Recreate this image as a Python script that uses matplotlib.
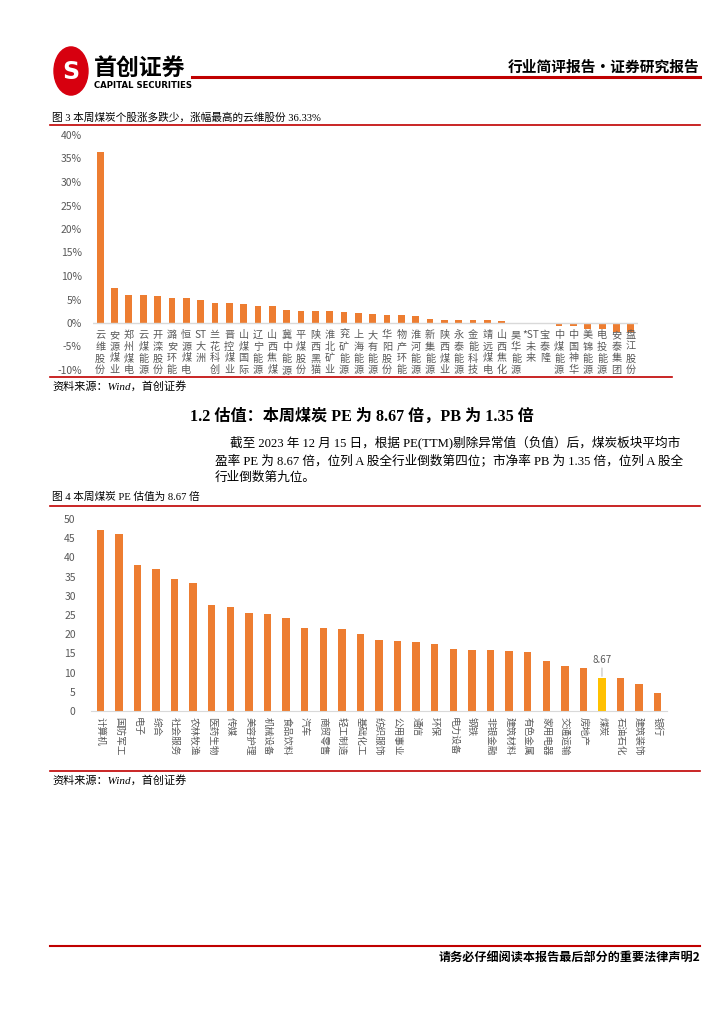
import matplotlib.pyplot as plt
from matplotlib.patches import Circle

plt.rcParams['font.family'] = ['Noto Sans CJK SC', 'DejaVu Sans']

W, H = 724, 1024

# figure 3: weekly change of coal stocks (%)
stocks = ['云维股份', '安源煤业', '郑州煤电', '云煤能源', '开滦股份', '潞安环能', '恒源煤电',
          'ST大洲', '兰花科创', '晋控煤业', '山煤国际', '辽宁能源', '山西焦煤', '冀中能源',
          '平煤股份', '陕西黑猫', '淮北矿业', '兖矿能源', '上海能源', '大有能源', '华阳股份',
          '物产环能', '淮河能源', '新集能源', '陕西煤业', '永泰能源', '金能科技', '靖远煤电',
          '山西焦化', '昊华能源', '*ST未来', '宝泰隆', '中煤能源', '中国神华', '美锦能源',
          '电投能源', '安泰集团', '盘江股份']
stock_chg = [36.33, 7.4, 5.9, 5.9, 5.8, 5.4, 5.4, 4.8, 4.2, 4.2, 4.1, 3.6, 3.6, 2.8,
             2.5, 2.5, 2.5, 2.35, 2.1, 1.85, 1.65, 1.65, 1.5, 0.8, 0.65, 0.6, 0.6, 0.6,
             0.45, 0.1, 0.0, 0.0, -0.6, -0.7, -1.3, -1.3, -1.9, -2.0]
chg_ticks = [-10, -5, 0, 5, 10, 15, 20, 25, 30, 35, 40]

# figure 4: PE(TTM) by industry
industries = ['计算机', '国防军工', '电子', '综合', '社会服务', '农林牧渔', '医药生物', '传媒',
              '美容护理', '机械设备', '食品饮料', '汽车', '商贸零售', '轻工制造', '基础化工',
              '纺织服饰', '公用事业', '通信', '环保', '电力设备', '钢铁', '非银金融', '建筑材料',
              '有色金属', '家用电器', '交通运输', '房地产', '煤炭', '石油石化', '建筑装饰', '银行']
pe = [47.2, 46.1, 38.0, 37.0, 34.5, 33.4, 27.6, 27.2, 25.6, 25.3, 24.2, 21.7, 21.6, 21.4,
      20.1, 18.6, 18.2, 18.0, 17.5, 16.1, 15.9, 15.8, 15.7, 15.4, 13.0, 11.8, 11.3, 8.67,
      8.6, 7.1, 4.6]
pe_ticks = list(range(0, 55, 5))

ORANGE = '#ED7D31'
GOLD = '#FFC000'
RED = '#C00000'
GREY = '#595959'
SERIF = ['Liberation Serif', 'Noto Sans CJK SC']


def box(x0, y0, x1, y1):
    # pixel box (top-left origin) -> figure rect
    return [x0 / W, 1 - y1 / H, (x1 - x0) / W, (y1 - y0) / H]


def hline(fig, y, x0, x1, lw, color=RED):
    fig.add_artist(plt.Line2D([x0 / W, x1 / W], [1 - y / H, 1 - y / H],
                              color=color, lw=lw, transform=fig.transFigure))


def ftext(fig, x, y, s, **kw):
    fig.text(x / W, 1 - y / H, s, **kw)


def split_vertical(label):
    parts = []
    buf = ''
    for ch in label:
        if ch.isascii():
            buf += ch
        else:
            if buf:
                parts.append(buf)
                buf = ''
            parts.append(ch)
    if buf:
        parts.append(buf)
    return '\n'.join(parts)


fig = plt.figure(figsize=(W / 100, H / 100), dpi=100)
fig.patch.set_facecolor('white')

# ---- page header
fig.add_artist(Circle((71 / W, 1 - 71 / H), 17 / W, transform=fig.transFigure,
                      color='#D7000F'))
ftext(fig, 71, 72, 'S', ha='center', va='center', color='white', fontsize=17,
      fontweight='bold', family=['DejaVu Sans'])
ftext(fig, 94, 68, '首创证券', ha='left', va='center', fontsize=16.5, fontweight='bold')
ftext(fig, 94, 85, 'CAPITAL SECURITIES', ha='left', va='center', fontsize=6.1,
      fontweight='bold', family=['DejaVu Sans'])
hline(fig, 77, 192, 700, 2.2)
ftext(fig, 700, 67, '行业简评报告·证券研究报告', ha='right', va='center', fontsize=10.6,
      fontweight='bold')

# ---- figure 3
ftext(fig, 52, 118, '图 3 本周煤炭个股涨多跌少，涨幅最高的云维股份 36.33%', ha='left',
      va='center', fontsize=7.7, family=SERIF)
hline(fig, 125, 50, 700, 1.2)

ax1 = fig.add_axes(box(93, 135, 638, 370))
x1 = range(len(stocks))
ax1.bar(x1, stock_chg, width=0.47, color=ORANGE)
ax1.set_xlim(-0.5, len(stocks) - 0.5)
ax1.set_ylim(-10, 40)
ax1.set_yticks(chg_ticks)
ax1.set_yticklabels([f'{t}%' for t in chg_ticks])
ax1.set_xticks([])
ax1.axhline(0, color='#D9D9D9', lw=1)
for s in ax1.spines.values():
    s.set_visible(False)
ax1.tick_params(axis='y', length=0, labelsize=7.5, labelcolor=GREY, pad=8)
for i, name in enumerate(stocks):
    ax1.annotate(split_vertical(name), xy=(i, 0), xytext=(0, -5),
                 textcoords='offset points', ha='center', va='top', fontsize=7.3,
                 color=GREY, linespacing=1.22, annotation_clip=False)

hline(fig, 377, 50, 672, 1.2)
ftext(fig, 52, 386, '资料来源：Wind，首创证券', ha='left', va='center', fontsize=8,
      style='italic', family=SERIF)

# ---- section text
ftext(fig, 190, 417, '1.2 估值：本周煤炭 PE 为 8.67 倍，PB 为 1.35 倍', ha='left',
      va='center', fontsize=11.6, fontweight='bold', family=SERIF)
ftext(fig, 230, 442, '截至 2023 年 12 月 15 日，根据 PE(TTM)剔除异常值（负值）后，煤炭板块平均市',
      ha='left', va='center', fontsize=9.1, family=SERIF)
ftext(fig, 215, 461, '盈率 PE 为 8.67 倍，位列 A 股全行业倒数第四位；市净率 PB 为 1.35 倍，位列 A 股全',
      ha='left', va='center', fontsize=9.1, family=SERIF)
ftext(fig, 215, 478, '行业倒数第九位。', ha='left', va='center', fontsize=9.1, family=SERIF)

# ---- figure 4
ftext(fig, 52, 497, '图 4 本周煤炭 PE 估值为 8.67 倍', ha='left', va='center', fontsize=7.7,
      family=SERIF)
hline(fig, 506, 50, 700, 1.2)

ax2 = fig.add_axes(box(91, 519, 667, 711))
x2 = range(len(industries))
colors = [GOLD if n == '煤炭' else ORANGE for n in industries]
ax2.bar(x2, pe, width=0.4, color=colors)
ax2.set_xlim(-0.5, len(industries) - 0.5)
ax2.set_ylim(0, 50)
ax2.set_yticks(pe_ticks)
ax2.set_xticks(list(x2))
ax2.set_xticklabels(industries, rotation=270, fontsize=6.8, color=GREY, va='top',
                    ha='center')
for s in ax2.spines.values():
    s.set_visible(False)
ax2.spines['bottom'].set_visible(True)
ax2.spines['bottom'].set_color('#D9D9D9')
ax2.tick_params(axis='both', length=0, labelsize=7.5, labelcolor=GREY)
ax2.tick_params(axis='x', pad=4, labelsize=6.9)
ax2.tick_params(axis='y', pad=11)
ci = industries.index('煤炭')
ax2.annotate(f'{pe[ci]:.2f}', xy=(ci, pe[ci]), xytext=(0, 9), textcoords='offset points',
             ha='center', va='bottom', fontsize=7, color=GREY,
             arrowprops=dict(arrowstyle='-', color='#BFBFBF', lw=0.8,
                             shrinkA=0, shrinkB=1))

hline(fig, 771, 50, 700, 1.2)
ftext(fig, 52, 780, '资料来源：Wind，首创证券', ha='left', va='center', fontsize=8,
      style='italic', family=SERIF)

# ---- footer
hline(fig, 946, 50, 700, 1.5)
ftext(fig, 700, 958, '请务必仔细阅读本报告最后部分的重要法律声明2', ha='right', va='center',
      fontsize=8.7, fontweight='bold')

fig.savefig('out.png', dpi=100)
